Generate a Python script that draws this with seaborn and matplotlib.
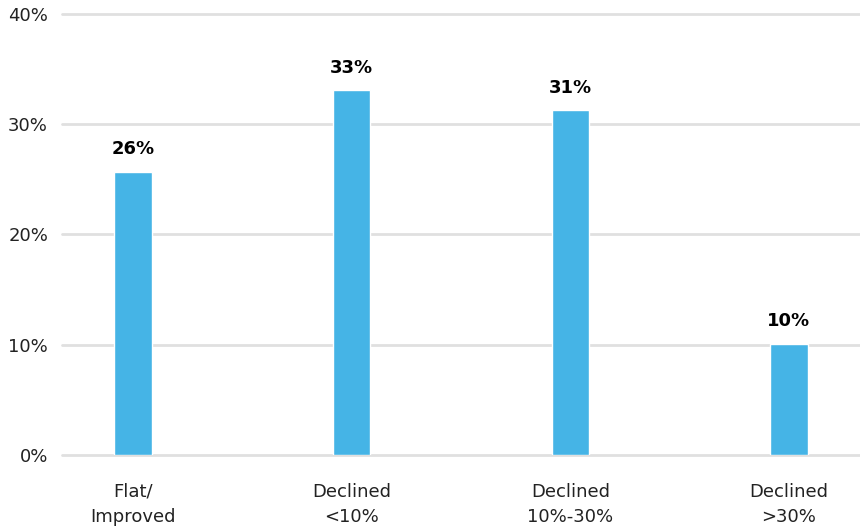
import matplotlib
matplotlib.use("Agg")
import matplotlib.pyplot as plt
import seaborn as sns
import pandas as pd
from matplotlib.ticker import PercentFormatter

# data
categories = ["Flat/\nImproved", "Declined\n<10%", "Declined\n10%-30%", "Declined\n>30%"]
values = [25.7, 33.1, 31.3, 10.1]
labels = ["26%", "33%", "31%", "10%"]

df = pd.DataFrame({"cat": categories, "val": values})

sns.set_style("white")
plt.rcParams["font.family"] = ["DejaVu Sans"]

fig = plt.figure(figsize=(8.6, 5.29), dpi=100)
ax = fig.add_axes([0.072, 0.14, 0.928, 0.8335])

sns.barplot(data=df, x="cat", y="val", color="#45B4E6", width=0.17,
            saturation=1, ax=ax)

for i, (v, t) in enumerate(zip(values, labels)):
    ax.text(i, v + 1.2, t, ha="center", va="bottom", fontsize=13,
            fontweight="heavy", color="black")

ax.set_ylim(0, 40)
ax.set_xlim(-0.325, 3.325)
ax.set_yticks([0, 10, 20, 30, 40])
ax.yaxis.set_major_formatter(PercentFormatter(decimals=0))
ax.grid(axis="y", color="#e0e0e0", linewidth=2)
for gl in ax.yaxis.get_gridlines():
    gl.set_clip_on(False)
ax.set_axisbelow(True)
ax.set_xlabel("")
ax.set_ylabel("")
for s in ax.spines.values():
    s.set_visible(False)
ax.tick_params(axis="y", labelsize=13, colors="#222222", length=0, pad=10)
ax.tick_params(axis="x", labelsize=13, colors="#222222", length=0, pad=20)
for lbl in ax.get_xticklabels():
    lbl.set_linespacing(1.5)

fig.savefig("out.png", dpi=100)
